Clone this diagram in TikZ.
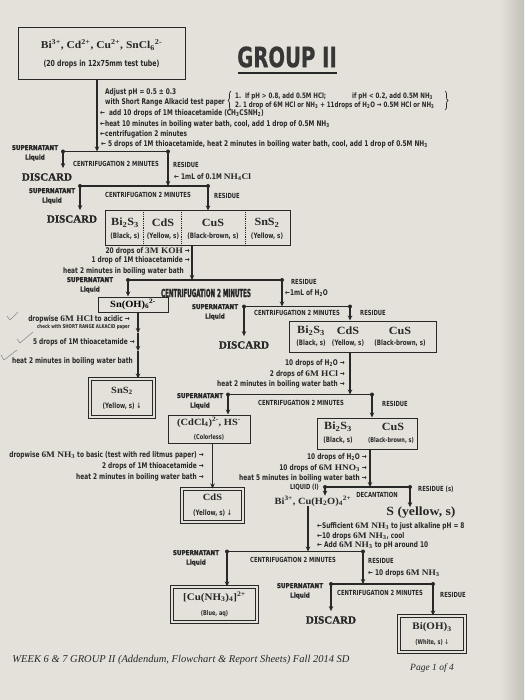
\documentclass[tikz,border=0pt]{standalone}
\usepackage{fontspec}
\usetikzlibrary{arrows.meta,decorations.pathreplacing,calc}
\newfontfamily\labf{DejaVu Sans}[FakeStretch=0.75]
\newfontfamily\supf{DejaVu Sans}[FakeStretch=0.86,FakeBold=1.2]
\newfontfamily\bigcf{DejaVu Sans}[FakeStretch=0.5,FakeBold=1.5]
\newfontfamily\formf{Liberation Serif}[FakeStretch=1.1]
\newfontfamily\heavyf{Liberation Serif}[FakeBold=1.5]
\newfontfamily\footf{Liberation Serif}
\newfontfamily\grpf{DejaVu Sans}[FakeStretch=0.7,FakeBold=0.6]
\definecolor{ink}{RGB}{40,40,40}
\definecolor{paper}{RGB}{227,225,218}
\newcommand\fnI{\labf\bfseries\fontsize{7.8}{9}\selectfont}
\newcommand\fnC{\labf\bfseries\fontsize{7}{8}\selectfont}
\newcommand\fnS{\labf\bfseries\fontsize{6.6}{7.5}\selectfont}
\newcommand\fnB{\labf\bfseries\fontsize{7.4}{8.5}\selectfont}
\newcommand\chem[2]{{\formf\bfseries\fontsize{#1}{#1}\selectfont #2}}
\newcommand\tsb[1]{\textsubscript{#1}}
\newcommand\tsp[1]{\textsuperscript{#1}}
\begin{document}
\begin{tikzpicture}[x=1pt,y=-1pt,
  box/.style={draw=ink, line width=1pt, inner sep=0pt, align=center},
  dbox/.style={draw=ink, line width=1pt, double=paper, double distance=1.2pt, inner sep=0pt, align=center},
  conn/.style={draw=ink, line width=1.3pt, -{Stealth[length=5pt,width=4.5pt]}},
  cbar/.style={draw=ink, line width=1.8pt},
  ins/.style={anchor=west, inner sep=0pt, font=\fnI, text=ink},
  insr/.style={anchor=east, inner sep=0pt, font=\fnI, text=ink},
  capl/.style={inner sep=0pt, font=\fnC, text=ink},
  bigc/.style={inner sep=0pt, font=\bigcf\bfseries\fontsize{11}{12}\selectfont, text=ink},
  supl/.style={inner sep=0pt, align=center, font=\supf\bfseries\fontsize{6.6}{9.5}\selectfont, text=ink},
  disc/.style={inner sep=1pt, font=\heavyf\bfseries\fontsize{11}{12}\selectfont, text=ink},
  cf/.style={inner sep=0pt, text=ink},
  bs/.style={inner sep=0pt, font=\fnB, text=ink},
  brs/.style={anchor=west, inner sep=0pt, font=\labf\bfseries\fontsize{7.4}{8.5}\selectfont, text=ink},
  tickm/.style={draw=black!45, line width=0.6pt}
]
\fill[paper] (0,0) rectangle (524,700);
\shade[left color=paper, right color={rgb,255:red,195;green,192;blue,185}] (500,0) rectangle (524,700);
\useasboundingbox (0,0) rectangle (524,700);

% top box and title
\node[box, minimum width=167pt, minimum height=52pt, text=ink] (top) at (101.5,54)
  {\chem{10.5}{Bi\tsp{3+}, Cd\tsp{2+}, Cu\tsp{2+}, SnCl\tsb{6}\tsp{2-}}\\[6pt]{\labf\bfseries\fontsize{8.3}{9}\selectfont (20 drops in 12x75mm test tube)}};
\node[inner sep=0pt, font=\grpf\bfseries\fontsize{28}{28}\selectfont, text={rgb,255:red,55;green,55;blue,55}] (grp) at (287,57) {GROUP II};
\draw[line width=2.2pt, ink] (238,73) -- (337,73);

% first instructions
\node[ins] (i1) at (105,92) {Adjust pH = 0.5 ± 0.3};
\node[ins] (i2) at (105,102) {with Short Range Alkacid test paper};
\node[ins] (i3) at (100,113) {←\enspace add 10 drops of 1M thioacetamide (CH\tsb{3}CSNH\tsb{2})};
\node[ins] (i4) at (100,124) {←heat 10 minutes in boiling water bath, cool, add 1 drop of 0.5M NH\tsb{3}};
\node[ins] (i5) at (100,134) {←centrifugation 2 minutes};
\node[ins] (i6) at (101,144.5) {← 5 drops of 1M thioacetamide, heat 2 minutes in boiling water bath, cool, add 1 drop of 0.5M NH\tsb{3}};
\node[brs] (br1) at (235,96) {1.\ \ If pH > 0.8, add 0.5M HCl;};
\node[brs] (br2) at (352,96) {if pH < 0.2, add 0.5M NH\tsb{3}};
\node[brs] (br3) at (235,105) {2.\ 1 drop of 6M HCl or NH\tsb{3} + 11drops of H\tsb{2}O → 0.5M HCl or NH\tsb{3}};
\draw[ink, line width=0.7pt, decorate, decoration={brace, amplitude=3pt}] (231,110) -- (231,91);
\draw[ink, line width=0.7pt, decorate, decoration={brace, amplitude=3pt}] (445,91) -- (445,110);

% bar 1
\coordinate (b1L) at (63,151.5); \coordinate (b1R) at (168,151.5); \coordinate (b1M) at (97,151.5);
\draw[conn] (top.south -| b1M) -- (b1M);
\draw[cbar] (b1L) -- (b1R);
\fill[ink] (b1L) circle (2pt) (b1R) circle (2pt);
\node[supl] (sup1) at (35,153) {SUPERNATANT\\Liquid};
\node[disc] (disc1) at (47,177) {DISCARD};
\draw[conn, shorten >=4pt] (b1L) -- (b1L |- disc1.north);
\node[capl] (c1) at (116,164) {CENTRIFUGATION 2 MINUTES};
\node[capl] (r1) at (186,165) {RESIDUE};

% bar 2
\coordinate (b2L) at (80,186); \coordinate (b2R) at (208,186); \coordinate (b2M) at (168,186);
\draw[conn] (b1R) -- (b2M);
\node[ins] (nh4) at (174,177) {← 1mL of 0.1M \chem{8.5}{NH\tsb{4}Cl}};
\draw[cbar] (b2L) -- (b2R);
\fill[ink] (b2L) circle (2pt) (b2R) circle (2pt);
\node[supl] (sup2) at (52,196) {SUPERNATANT\\Liquid};
\node[disc] (disc2) at (72,219) {DISCARD};
\draw[conn, shorten >=4pt] (b2L) -- (b2L |- disc2.north);
\node[capl] (c2) at (148,195) {CENTRIFUGATION 2 MINUTES};
\node[capl] (r2) at (227,196) {RESIDUE};

% mixed sulfides box
\node[box, minimum width=185pt, minimum height=35pt] (mix1) at (197.5,228.5) {};
\draw[conn] (b2R) -- (b2R |- mix1.north);
\foreach \f in {0.211,0.416,0.757}
  \draw[ink, densely dotted, line width=0.8pt] ($(mix1.north west)!\f!(mix1.north east)$) -- ($(mix1.south west)!\f!(mix1.south east)$);
\node[cf] (s1a) at (125,223) {\chem{11}{Bi\tsb{2}S\tsb{3}}};
\node[cf] (s1b) at (163,223) {\chem{11}{CdS}};
\node[cf] (s1c) at (213,223) {\chem{11}{CuS}};
\node[cf] (s1d) at (267,223) {\chem{11}{SnS\tsb{2}}};
\node[bs] (t1a) at (125,236) {(Black, s)};
\node[bs] (t1b) at (163,236) {(Yellow, s)};
\node[bs] (t1c) at (213,236) {(Black-brown, s)};
\node[bs] (t1d) at (267,236) {(Yellow, s)};

% bar 3
\coordinate (b3L) at (128,280); \coordinate (b3R) at (282,280); \coordinate (b3M) at (192,280);
\draw[conn] (mix1.south -| b3M) -- (b3M);
\node[insr] (k1) at (190,251) {20 drops of \chem{8.5}{3M KOH} →};
\node[insr] (k2) at (190,260) {1 drop of 1M thioacetamide →};
\node[insr] (k3) at (184,271) {heat 2 minutes in boiling water bath};
\draw[cbar] (b3L) -- (b3R);
\fill[ink] (b3L) circle (2pt) (b3R) circle (2pt);
\node[supl] (sup3) at (90,285) {SUPERNATANT\\Liquid};
\node[bigc] (c3) at (206,293) {CENTRIFUGATION 2 MINUTES};
\node[capl, anchor=west] (r3) at (291,282) {RESIDUE};
\node[ins] (w1) at (285,293) {←1mL of H\tsb{2}O};

% tin branch
\node[box, minimum width=70pt, minimum height=15pt] (snoh) at (133,304.5) {\chem{9.5}{Sn(OH)\tsb{6}\tsp{2-}}};
\draw[conn] (b3L) -- (b3L |- snoh.north);
\node[dbox, minimum width=64pt, minimum height=38pt, text=ink] (sns2) at (122,398) {\chem{9.5}{SnS\tsb{2}}\\[3pt]{\fnB (Yellow, s) ↓}};
\coordinate (m1) at (138,333); \coordinate (m2) at (138,351);
\draw[conn] (snoh.south -| m1) -- (m1);
\draw[conn] (m1) -- (m2);
\draw[conn] (m2) -- (m2 |- sns2.north);
\node[insr] (h1) at (130,319) {dropwise \chem{8.5}{6M HCl} to acidic →};
\node[inner sep=0pt, anchor=east, font=\labf\bfseries\fontsize{5.3}{6}\selectfont, text=ink] (h2) at (130,327.5) {check with SHORT RANGE ALKACID paper};
\node[insr] (h3) at (135,342) {5 drops of 1M thioacetamide →};
\node[insr] (h4) at (133,361) {heat 2 minutes in boiling water bath};
\draw[tickm] (7,316) -- (10,320) -- (18,312);
\draw[tickm] (17,339) -- (20,343) -- (33,332);
\draw[tickm] (1,355) -- (4,360) -- (17,350);

% bar 4
\coordinate (b4L) at (244,306.5); \coordinate (b4R) at (350,306.5); \coordinate (b4M) at (282,306.5);
\draw[conn] (b3R) -- (b4M);
\draw[cbar] (b4L) -- (b4R);
\fill[ink] (b4L) circle (2pt) (b4R) circle (2pt);
\node[supl] (sup4) at (215,312) {SUPERNATANT\\Liquid};
\node[capl] (c4) at (297,312.5) {CENTRIFUGATION 2 MINUTES};
\node[capl] (r4) at (373,312.5) {RESIDUE};
\node[disc] (disc3) at (244,345) {DISCARD};
\draw[conn, shorten >=4pt] (b4L) -- (b4L |- disc3.north);
\node[box, minimum width=147pt, minimum height=31pt] (mix2) at (362.5,336.5) {};
\draw[conn] (b4R) -- (b4R |- mix2.north);
\node[cf] (s2a) at (311,331) {\chem{11}{Bi\tsb{2}S\tsb{3}}};
\node[cf] (s2b) at (348,331) {\chem{11}{CdS}};
\node[cf] (s2c) at (400,331) {\chem{11}{CuS}};
\node[bs] (t2a) at (311,343.5) {(Black, s)};
\node[bs] (t2b) at (348,343.5) {(Yellow, s)};
\node[bs] (t2c) at (400,343.5) {(Black-brown, s)};

% bar 5
\coordinate (b5L) at (228,394.5); \coordinate (b5R) at (372,394.5); \coordinate (b5M) at (350,394.5);
\draw[conn] (mix2.south -| b5M) -- (b5M);
\node[insr] (g1) at (345,363) {10 drops of H\tsb{2}O →};
\node[insr] (g2) at (345,374) {2 drops of \chem{8.5}{6M HCl} →};
\node[insr] (g3) at (345,384) {heat 2 minutes in boiling water bath →};
\draw[cbar] (b5L) -- (b5R);
\fill[ink] (b5L) circle (2pt) (b5R) circle (2pt);
\node[supl] (sup5) at (200,401) {SUPERNATANT\\Liquid};
\node[capl] (c5) at (301,403) {CENTRIFUGATION 2 MINUTES};
\node[capl] (r5) at (395,403.5) {RESIDUE};
\node[box, minimum width=82pt, minimum height=28pt, text=ink] (cdcl) at (209,429) {\chem{9.5}{(CdCl\tsb{4})\tsp{2-}, HS\tsp{-}}\\[2pt]{\fnS (Colorless)}};
\draw[conn] (b5L) -- (b5L |- cdcl.north);
\node[box, minimum width=100pt, minimum height=31pt] (mix3) at (367,433.5) {};
\draw[conn] (b5R) -- (b5R |- mix3.north);
\node[cf] (s3a) at (338,427) {\chem{11}{Bi\tsb{2}S\tsb{3}}};
\node[cf] (s3b) at (393,427) {\chem{11}{CuS}};
\node[bs] (t3a) at (338,440) {(Black, s)};
\node[bs, font=\fnS] (t3b) at (391,440) {(Black-brown, s)};

% cadmium branch
\node[dbox, minimum width=61pt, minimum height=33pt, text=ink] (cds) at (212.5,505.5) {\chem{9.5}{CdS}\\[3pt]{\fnB (Yellow, s) ↓}};
\draw[conn] (cdcl.south -| cds.north) -- (cds.north);
\node[insr] (d1) at (204,455) {dropwise \chem{8.5}{6M NH\tsb{3}} to basic (test with red litmus paper) →};
\node[insr] (d2) at (204,466) {2 drops of 1M thioacetamide →};
\node[insr] (d3) at (204,477) {heat 2 minutes in boiling water bath →};

% bar 6
\coordinate (b6L) at (325,487); \coordinate (b6R) at (410,487); \coordinate (b6M) at (370,487);
\draw[conn] (mix3.south -| b6M) -- (b6M);
\node[insr] (e1) at (367,457) {10 drops of H\tsb{2}O →};
\node[insr] (e2) at (367,468.5) {10 drops of \chem{8.5}{6M HNO\tsb{3}} →};
\node[insr] (e3) at (367,478.5) {heat 5 minutes in boiling water bath →};
\draw[cbar] (b6L) -- (b6R);
\fill[ink] (b6L) circle (2pt) (b6R) circle (2pt);
\node[capl, anchor=east] (liq) at (319,487) {LIQUID (l)};
\node[capl] (dec) at (377,495) {DECANTATION};
\node[capl, anchor=west] (r6) at (418,489) {RESIDUE (s)};
\node[cf] (bicu) at (313,501) {\chem{9.5}{Bi\tsp{3+}, Cu(H\tsb{2}O)\tsb{4}\tsp{2+}}};
\draw[conn] (b6L) -- (b6L |- bicu.north);
\node[cf] (sy) at (421,513) {\chem{12.5}{S (yellow, s)}};
\draw[conn] (b6R) -- (b6R |- sy.north);

% bar 7
\coordinate (b7L) at (227,551.5); \coordinate (b7R) at (363,551.5); \coordinate (b7M) at (308,551.5);
\draw[conn] (bicu.south -| b7M) -- (b7M);
\node[ins] (f1) at (317,526.5) {←Sufficient \chem{8.5}{6M NH\tsb{3}} to just alkaline pH = 8};
\node[ins] (f2) at (317,536) {←10 drops \chem{8.5}{6M NH\tsb{3}}, cool};
\node[ins] (f3) at (317,545.5) {← Add \chem{8.5}{6M NH\tsb{3}} to pH around 10};
\draw[cbar] (b7L) -- (b7R);
\fill[ink] (b7L) circle (2pt) (b7R) circle (2pt);
\node[supl] (sup7) at (196,558) {SUPERNATANT\\Liquid};
\node[capl] (c7) at (293,560) {CENTRIFUGATION 2 MINUTES};
\node[capl] (r7) at (381,561) {RESIDUE};
\node[ins] (n10) at (368,573) {← 10 drops \chem{8.5}{6M NH\tsb{3}}};
\node[dbox, minimum width=85pt, minimum height=35pt, text=ink] (cu) at (214.5,604.5) {\chem{10}{[Cu(NH\tsb{3})\tsb{4}]\tsp{2+}}\\[3pt]{\fnS (Blue, aq)}};
\draw[conn] (b7L) -- (b7L |- cu.north);

% bar 8
\coordinate (b8L) at (331,584); \coordinate (b8R) at (433,584); \coordinate (b8M) at (363,584);
\draw[conn] (b7R) -- (b8M);
\draw[cbar] (b8L) -- (b8R);
\fill[ink] (b8L) circle (2pt) (b8R) circle (2pt);
\node[supl] (sup8) at (300,591) {SUPERNATANT\\Liquid};
\node[capl] (c8) at (380,593) {CENTRIFUGATION 2 MINUTES};
\node[capl] (r8) at (453,595) {RESIDUE};
\node[disc] (disc4) at (331,620) {DISCARD};
\draw[conn, shorten >=4pt] (b8L) -- (b8L |- disc4.north);
\node[dbox, minimum width=66pt, minimum height=36pt, text=ink] (bioh) at (432,634) {\chem{10}{Bi(OH)\tsb{3}}\\[3pt]{\fnS (White, s) ↓}};
\draw[conn] (b8R) -- (b8R |- bioh.north);

% footer
\node[inner sep=0pt, font=\footf\itshape\fontsize{10.5}{12}\selectfont, text=ink] (ft) at (181,660) {WEEK 6 \& 7 GROUP II (Addendum, Flowchart \& Report Sheets) Fall 2014 SD};
\node[inner sep=0pt, font=\footf\itshape\fontsize{9.5}{11}\selectfont, text=ink] (pg) at (432,668) {Page 1 of 4};
\end{tikzpicture}
\end{document}
